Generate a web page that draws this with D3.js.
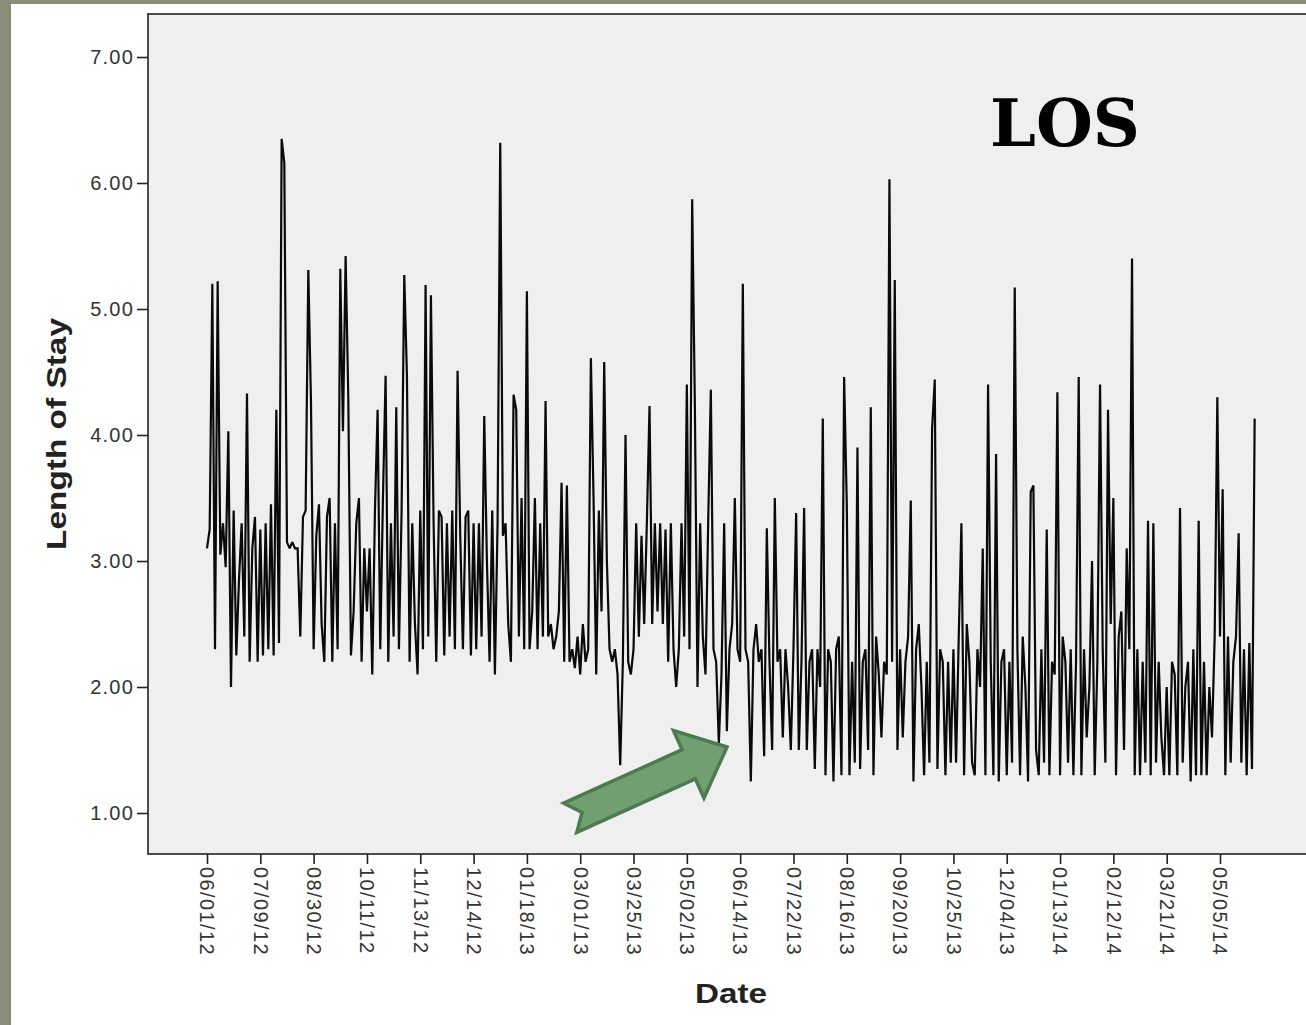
<!DOCTYPE html>
<html>
<head>
<meta charset="utf-8">
<script src="https://cdn.jsdelivr.net/npm/d3@7"></script>
<style>
  html, body { margin: 0; padding: 0; background: #8a8b79; }
  svg { display: block; }
</style>
</head>
<body>
<svg id="chart" width="1306" height="1025"></svg>
<script>
// ---- data ----
const tickLabels = ["06/01/12","07/09/12","08/30/12","10/11/12","11/13/12","12/14/12","01/18/13","03/01/13","03/25/13","05/02/13","06/14/13","07/22/13","08/16/13","09/20/13","10/25/13","12/04/13","01/13/14","02/12/14","03/21/14","05/05/14"];
const pointsPerTick = 20;
const yTicks = [1, 2, 3, 4, 5, 6, 7];
const los = [
  3.10,3.25,5.20,2.30,5.22,3.05,3.30,2.95,4.03,2.00,3.40,2.25,2.85,3.30,2.40,4.33,2.20,3.10,3.35,2.20,
  3.25,2.25,3.30,2.30,3.45,2.25,4.20,2.35,6.35,6.16,3.15,3.10,3.15,3.10,3.10,2.40,3.35,3.40,5.31,4.27,
  2.30,3.20,3.45,2.50,2.20,3.35,3.50,2.20,3.30,2.30,5.32,4.03,5.42,4.30,2.25,2.60,3.30,3.50,2.20,3.10,
  2.60,3.10,2.10,3.40,4.20,2.30,3.50,4.47,2.20,3.30,2.40,4.22,2.30,3.40,5.27,4.47,2.20,3.30,2.50,2.10,
  3.40,2.30,5.19,2.40,5.11,3.30,2.20,3.40,3.35,2.25,3.30,2.40,3.40,2.30,4.51,3.20,2.30,3.35,3.40,2.25,
  3.30,2.30,3.30,2.40,4.15,3.00,2.20,3.40,2.10,3.30,6.32,3.20,3.30,2.50,2.20,4.32,4.20,2.40,3.50,2.30,
  5.14,2.30,2.60,3.50,2.30,3.30,2.40,4.27,2.40,2.50,2.30,2.40,2.60,3.62,2.20,3.60,2.20,2.30,2.15,2.40,
  2.10,2.50,2.20,2.30,4.61,3.50,2.10,3.40,2.60,4.58,3.00,2.30,2.20,2.30,2.10,1.38,2.20,4.00,2.20,2.10,
  2.30,3.30,2.40,3.20,2.50,3.30,4.23,2.50,3.30,2.60,3.30,2.50,3.25,2.20,3.30,2.30,2.00,2.30,3.30,2.40,
  4.40,2.30,5.87,4.25,2.00,3.30,2.40,2.10,3.30,4.36,2.30,2.20,1.55,2.10,3.30,1.65,2.30,2.50,3.50,2.30,
  2.20,5.20,2.30,2.20,1.25,2.30,2.50,2.20,2.30,1.45,3.26,2.20,1.50,3.50,2.20,2.30,1.60,2.30,2.00,1.50,
  2.30,3.38,1.50,2.20,3.42,1.50,2.20,2.30,1.35,2.30,2.00,4.13,1.30,2.30,2.20,1.25,2.30,2.40,1.30,4.46,
  3.45,1.30,2.20,1.40,3.90,1.35,2.20,2.30,1.50,4.22,1.30,2.40,2.10,1.60,2.20,2.10,6.03,2.20,5.23,1.50,
  2.30,1.60,2.20,2.40,3.48,1.25,2.30,2.50,2.00,1.30,2.20,1.40,4.05,4.44,1.35,2.30,2.20,1.30,2.20,1.40,
  2.30,1.40,2.40,3.30,1.30,2.50,2.20,1.40,1.30,2.30,2.00,3.10,1.30,4.40,2.20,1.30,3.85,1.25,2.20,2.30,
  1.30,2.20,1.40,5.17,2.30,1.30,2.40,2.00,1.25,3.55,3.60,1.50,1.30,2.30,1.40,3.25,1.30,2.20,2.10,4.34,
  1.30,2.40,2.20,1.40,2.30,1.30,2.20,4.46,1.30,2.30,1.60,2.00,3.00,1.30,2.20,4.40,2.30,1.40,4.20,2.50,
  3.50,1.30,2.40,2.60,1.50,3.10,2.30,5.40,1.30,2.30,1.30,2.20,1.40,3.32,1.30,3.30,1.40,2.20,1.60,1.30,
  2.00,1.30,2.20,2.10,1.30,3.42,1.40,2.00,2.20,1.25,2.30,1.30,3.32,1.30,2.20,1.30,2.00,1.60,2.40,4.30,
  2.40,3.57,1.30,2.40,1.40,2.20,2.40,3.22,1.40,2.30,1.30,2.35,1.35,4.13
];

// ---- drawing ----
const svg = d3.select("#chart");
const W = 1306, H = 1025;
const plot = { left: 148, top: 14, bottom: 854, right: 1320 };

// white panel inside olive frame
svg.append("rect").attr("x", 11).attr("y", 4).attr("width", W - 11).attr("height", H - 4).attr("fill", "#ffffff");

const lastTick = (tickLabels.length - 1) * pointsPerTick;
const x = d3.scaleLinear().domain([0, lastTick]).range([207, 1220]);
const y = d3.scaleLinear().domain([1, 7]).range([813, 57]);

// plot area
svg.append("rect")
  .attr("x", plot.left).attr("y", plot.top)
  .attr("width", plot.right - plot.left).attr("height", plot.bottom - plot.top)
  .attr("fill", "#efefef").attr("stroke", "#222").attr("stroke-width", 1.6);

// y axis
const yAxis = svg.append("g").attr("transform", `translate(${plot.left},0)`)
  .call(d3.axisLeft(y).tickValues(yTicks).tickFormat(d3.format(".2f")).tickSize(11).tickPadding(3));
yAxis.select(".domain").remove();
yAxis.selectAll(".tick line").attr("stroke", "#222").attr("stroke-width", 1.6);
yAxis.selectAll(".tick text")
  .attr("font-family", "Liberation Sans, Arial, sans-serif")
  .attr("font-size", 20).attr("fill", "#333").attr("letter-spacing", 1.2);

// x axis
const xAxis = svg.append("g").attr("transform", `translate(0,${plot.bottom})`)
  .call(d3.axisBottom(x)
    .tickValues(d3.range(0, lastTick + 1, pointsPerTick))
    .tickFormat((d, i) => tickLabels[i])
    .tickSize(10));
xAxis.select(".domain").remove();
xAxis.selectAll(".tick line").attr("stroke", "#222").attr("stroke-width", 1.6);
xAxis.selectAll(".tick text")
  .attr("font-family", "Liberation Sans, Arial, sans-serif")
  .attr("font-size", 20).attr("fill", "#333").attr("letter-spacing", 1.4)
  .attr("text-anchor", "start")
  .attr("transform", "rotate(90)")
  .attr("x", 13).attr("y", 0).attr("dy", "0.36em");

// line series
const line = d3.line().x((d, i) => x(i)).y(d => y(d));
svg.append("path")
  .datum(los)
  .attr("d", line)
  .attr("fill", "none")
  .attr("stroke", "#0a0a0a")
  .attr("stroke-width", 2.2)
  .attr("stroke-linejoin", "miter")
  .attr("stroke-miterlimit", 1.5);

// axis titles
svg.append("text")
  .attr("transform", "translate(66,434) rotate(-90)")
  .attr("text-anchor", "middle")
  .attr("font-family", "Liberation Sans, Arial, sans-serif")
  .attr("font-weight", "bold").attr("font-size", 27).attr("fill", "#222")
  .attr("textLength", 232).attr("lengthAdjust", "spacingAndGlyphs")
  .text("Length of Stay");

svg.append("text")
  .attr("x", 731).attr("y", 1003)
  .attr("text-anchor", "middle")
  .attr("font-family", "Liberation Sans, Arial, sans-serif")
  .attr("font-weight", "bold").attr("font-size", 27).attr("fill", "#222")
  .attr("textLength", 72).attr("lengthAdjust", "spacingAndGlyphs")
  .text("Date");

// LOS label
svg.append("text")
  .attr("x", 990).attr("y", 146)
  .attr("font-family", "DejaVu Serif, serif")
  .attr("font-weight", "bold").attr("font-size", 66).attr("fill", "#000")
  .attr("textLength", 150).attr("lengthAdjust", "spacingAndGlyphs")
  .text("LOS");

// green arrow
const L = 172, hl = 42, hw = 37, sw = 16, notch = 13;
const arrowPts = [[0,0],[-hl,-hw],[-hl,-sw],[-L,-sw],[-L+notch,0],[-L,sw],[-hl,sw],[-hl,hw]];
svg.append("path")
  .attr("d", d3.line()(arrowPts) + "Z")
  .attr("transform", "translate(727,747) rotate(-24.3)")
  .attr("fill", "#70a072").attr("stroke", "#4d7a4f").attr("stroke-width", 3.5)
  .attr("stroke-linejoin", "miter");
</script>
</body>
</html>
